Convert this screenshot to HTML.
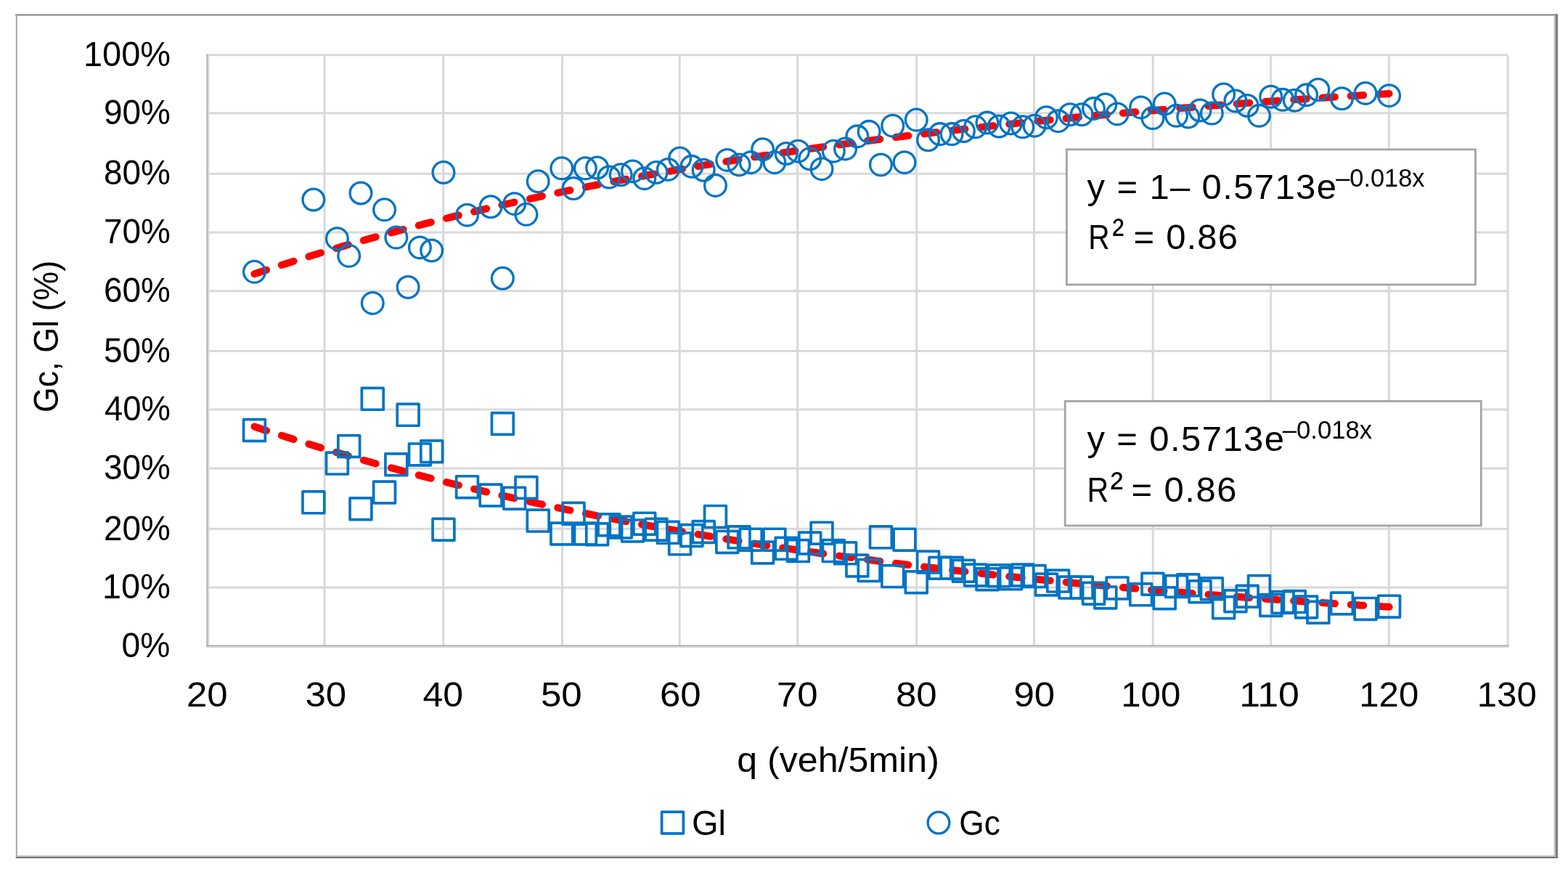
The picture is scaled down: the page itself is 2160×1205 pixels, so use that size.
<!DOCTYPE html><html><head><meta charset="utf-8"><title>Gc, Gl vs q</title><style>html,body{margin:0;padding:0;background:#fff;overflow:hidden;}svg{display:block;}text{font-family:"Liberation Sans",Arial,sans-serif;fill:#000;}</style></head><body>
<svg width="2160" height="1205" viewBox="0 0 2160 1205">
<rect x="0" y="0" width="2160" height="1205" fill="#fff"/>
<rect x="21" y="19.5" width="2125" height="2" fill="#808080"/>
<rect x="21.8" y="20" width="2" height="1162" fill="#a6a6a6"/>
<rect x="2140.6" y="21" width="2" height="1159" fill="#c4c4c4"/>
<rect x="2142.6" y="19.5" width="3.5" height="1162.5" fill="#7f7f7f"/>
<rect x="23" y="1178" width="2120" height="2" fill="#c0c0c0"/>
<rect x="21.8" y="1180" width="2124.3" height="2" fill="#767676"/>
<g stroke="#d9d9d9" stroke-width="3"><line x1="447.0" y1="75.7" x2="447.0" y2="889.9"/><line x1="610.7" y1="75.7" x2="610.7" y2="889.9"/><line x1="774.5" y1="75.7" x2="774.5" y2="889.9"/><line x1="936.2" y1="75.7" x2="936.2" y2="889.9"/><line x1="1098.7" y1="75.7" x2="1098.7" y2="889.9"/><line x1="1262.7" y1="75.7" x2="1262.7" y2="889.9"/><line x1="1424.5" y1="75.7" x2="1424.5" y2="889.9"/><line x1="1588.2" y1="75.7" x2="1588.2" y2="889.9"/><line x1="1750.7" y1="75.7" x2="1750.7" y2="889.9"/><line x1="1913.3" y1="75.7" x2="1913.3" y2="889.9"/><line x1="2077.1" y1="75.7" x2="2077.1" y2="889.9"/><line x1="286.0" y1="75.7" x2="2077.1" y2="75.7"/><line x1="286.0" y1="155.8" x2="2077.1" y2="155.8"/><line x1="286.0" y1="239.3" x2="2077.1" y2="239.3"/><line x1="286.0" y1="320.09999999999997" x2="2077.1" y2="320.09999999999997"/><line x1="286.0" y1="400.79999999999995" x2="2077.1" y2="400.79999999999995"/><line x1="286.0" y1="483.4" x2="2077.1" y2="483.4"/><line x1="286.0" y1="564.1" x2="2077.1" y2="564.1"/><line x1="286.0" y1="645.0" x2="2077.1" y2="645.0"/><line x1="286.0" y1="728.1999999999999" x2="2077.1" y2="728.1999999999999"/><line x1="286.0" y1="809.0" x2="2077.1" y2="809.0"/></g>
<rect x="284.3" y="74.2" width="2.4" height="816.6999999999999" fill="#b3b3b3"/>
<rect x="286.7" y="75.7" width="1.7" height="813.1999999999999" fill="#dcdcdc"/>
<rect x="284.3" y="888.2" width="1794.3" height="2.1" fill="#b3b3b3"/>
<rect x="285" y="890.3" width="1793.6" height="1.7" fill="#d4d4d4"/>
<g fill="none" stroke="#ff0000" stroke-width="10" stroke-linecap="round" stroke-linejoin="round" stroke-dasharray="17.5 21.84">
<path d="M350.43,587.52 L358.57,590.22 L366.72,592.91 L374.86,595.56 L383.00,598.20 L391.14,600.81 L399.28,603.39 L407.42,605.96 L415.56,608.50 L423.71,611.01 L431.85,613.51 L439.99,615.98 L448.13,618.43 L456.27,620.86 L464.41,623.27 L472.55,625.65 L480.70,628.02 L488.84,630.36 L496.98,632.68 L505.12,634.98 L513.26,637.26 L521.40,639.52 L529.55,641.76 L537.69,643.98 L545.83,646.18 L553.97,648.36 L562.11,650.52 L570.25,652.66 L578.39,654.79 L586.54,656.89 L594.68,658.97 L602.82,661.04 L610.96,663.09 L619.10,665.11 L627.24,667.12 L635.38,669.12 L643.53,671.09 L651.67,673.05 L659.81,674.99 L667.95,676.91 L676.09,678.81 L684.23,680.70 L692.38,682.57 L700.52,684.43 L708.66,686.26 L716.80,688.09 L724.94,689.89 L733.08,691.68 L741.22,693.45 L749.37,695.21 L757.51,696.95 L765.65,698.67 L773.79,700.38 L781.93,702.08 L790.07,703.76 L798.21,705.42 L806.36,707.07 L814.50,708.70 L822.64,710.32 L830.78,711.93 L838.92,713.52 L847.06,715.10 L855.21,716.66 L863.35,718.21 L871.49,719.74 L879.63,721.26 L887.77,722.77 L895.91,724.27 L904.05,725.75 L912.20,727.21 L920.34,728.67 L928.48,730.11 L936.62,731.54 L944.76,732.95 L952.90,734.35 L961.04,735.74 L969.19,737.12 L977.33,738.49 L985.47,739.84 L993.61,741.18 L1001.75,742.51 L1009.89,743.83 L1018.04,745.13 L1026.18,746.43 L1034.32,747.71 L1042.46,748.98 L1050.60,750.24 L1058.74,751.48 L1066.88,752.72 L1075.03,753.95 L1083.17,755.16 L1091.31,756.36 L1099.45,757.56 L1107.59,758.74 L1115.73,759.91 L1123.87,761.07 L1132.02,762.22 L1140.16,763.36 L1148.30,764.49 L1156.44,765.61 L1164.58,766.72 L1172.72,767.82 L1180.87,768.91 L1189.01,769.99 L1197.15,771.06 L1205.29,772.13 L1213.43,773.18 L1221.57,774.22 L1229.71,775.25 L1237.86,776.28 L1246.00,777.29 L1254.14,778.30 L1262.28,779.29 L1270.42,780.28 L1278.56,781.26 L1286.70,782.23 L1294.85,783.19 L1302.99,784.14 L1311.13,785.09 L1319.27,786.02 L1327.41,786.95 L1335.55,787.87 L1343.69,788.78 L1351.84,789.68 L1359.98,790.57 L1368.12,791.46 L1376.26,792.34 L1384.40,793.21 L1392.54,794.07 L1400.69,794.93 L1408.83,795.77 L1416.97,796.61 L1425.11,797.45 L1433.25,798.27 L1441.39,799.09 L1449.53,799.90 L1457.68,800.70 L1465.82,801.50 L1473.96,802.29 L1482.10,803.07 L1490.24,803.84 L1498.38,804.61 L1506.53,805.37 L1514.67,806.12 L1522.81,806.87 L1530.95,807.61 L1539.09,808.34 L1547.23,809.07 L1555.37,809.79 L1563.52,810.51 L1571.66,811.21 L1579.80,811.92 L1587.94,812.61 L1596.08,813.30 L1604.22,813.98 L1612.36,814.66 L1620.51,815.33 L1628.65,815.99 L1636.79,816.65 L1644.93,817.31 L1653.07,817.95 L1661.21,818.59 L1669.36,819.23 L1677.50,819.86 L1685.64,820.48 L1693.78,821.10 L1701.92,821.71 L1710.06,822.32 L1718.20,822.92 L1726.35,823.52 L1734.49,824.11 L1742.63,824.70 L1750.77,825.28 L1758.91,825.85 L1767.05,826.42 L1775.19,826.99 L1783.34,827.55 L1791.48,828.10 L1799.62,828.65 L1807.76,829.20 L1815.90,829.74 L1824.04,830.27 L1832.19,830.80 L1840.33,831.33 L1848.47,831.85 L1856.61,832.37 L1864.75,832.88 L1872.89,833.39 L1881.03,833.89 L1889.18,834.39 L1897.32,834.88 L1905.46,835.37 L1913.60,835.86"/>
<path d="M350.43,377.28 L358.57,374.58 L366.72,371.89 L374.86,369.24 L383.00,366.60 L391.14,363.99 L399.28,361.41 L407.42,358.84 L415.56,356.30 L423.71,353.79 L431.85,351.29 L439.99,348.82 L448.13,346.37 L456.27,343.94 L464.41,341.53 L472.55,339.15 L480.70,336.78 L488.84,334.44 L496.98,332.12 L505.12,329.82 L513.26,327.54 L521.40,325.28 L529.55,323.04 L537.69,320.82 L545.83,318.62 L553.97,316.44 L562.11,314.28 L570.25,312.14 L578.39,310.01 L586.54,307.91 L594.68,305.83 L602.82,303.76 L610.96,301.71 L619.10,299.69 L627.24,297.68 L635.38,295.68 L643.53,293.71 L651.67,291.75 L659.81,289.81 L667.95,287.89 L676.09,285.99 L684.23,284.10 L692.38,282.23 L700.52,280.37 L708.66,278.54 L716.80,276.71 L724.94,274.91 L733.08,273.12 L741.22,271.35 L749.37,269.59 L757.51,267.85 L765.65,266.13 L773.79,264.42 L781.93,262.72 L790.07,261.04 L798.21,259.38 L806.36,257.73 L814.50,256.10 L822.64,254.48 L830.78,252.87 L838.92,251.28 L847.06,249.70 L855.21,248.14 L863.35,246.59 L871.49,245.06 L879.63,243.54 L887.77,242.03 L895.91,240.53 L904.05,239.05 L912.20,237.59 L920.34,236.13 L928.48,234.69 L936.62,233.26 L944.76,231.85 L952.90,230.45 L961.04,229.06 L969.19,227.68 L977.33,226.31 L985.47,224.96 L993.61,223.62 L1001.75,222.29 L1009.89,220.97 L1018.04,219.67 L1026.18,218.37 L1034.32,217.09 L1042.46,215.82 L1050.60,214.56 L1058.74,213.32 L1066.88,212.08 L1075.03,210.85 L1083.17,209.64 L1091.31,208.44 L1099.45,207.24 L1107.59,206.06 L1115.73,204.89 L1123.87,203.73 L1132.02,202.58 L1140.16,201.44 L1148.30,200.31 L1156.44,199.19 L1164.58,198.08 L1172.72,196.98 L1180.87,195.89 L1189.01,194.81 L1197.15,193.74 L1205.29,192.67 L1213.43,191.62 L1221.57,190.58 L1229.71,189.55 L1237.86,188.52 L1246.00,187.51 L1254.14,186.50 L1262.28,185.51 L1270.42,184.52 L1278.56,183.54 L1286.70,182.57 L1294.85,181.61 L1302.99,180.66 L1311.13,179.71 L1319.27,178.78 L1327.41,177.85 L1335.55,176.93 L1343.69,176.02 L1351.84,175.12 L1359.98,174.23 L1368.12,173.34 L1376.26,172.46 L1384.40,171.59 L1392.54,170.73 L1400.69,169.87 L1408.83,169.03 L1416.97,168.19 L1425.11,167.35 L1433.25,166.53 L1441.39,165.71 L1449.53,164.90 L1457.68,164.10 L1465.82,163.30 L1473.96,162.51 L1482.10,161.73 L1490.24,160.96 L1498.38,160.19 L1506.53,159.43 L1514.67,158.68 L1522.81,157.93 L1530.95,157.19 L1539.09,156.46 L1547.23,155.73 L1555.37,155.01 L1563.52,154.29 L1571.66,153.59 L1579.80,152.88 L1587.94,152.19 L1596.08,151.50 L1604.22,150.82 L1612.36,150.14 L1620.51,149.47 L1628.65,148.81 L1636.79,148.15 L1644.93,147.49 L1653.07,146.85 L1661.21,146.21 L1669.36,145.57 L1677.50,144.94 L1685.64,144.32 L1693.78,143.70 L1701.92,143.09 L1710.06,142.48 L1718.20,141.88 L1726.35,141.28 L1734.49,140.69 L1742.63,140.10 L1750.77,139.52 L1758.91,138.95 L1767.05,138.38 L1775.19,137.81 L1783.34,137.25 L1791.48,136.70 L1799.62,136.15 L1807.76,135.60 L1815.90,135.06 L1824.04,134.53 L1832.19,134.00 L1840.33,133.47 L1848.47,132.95 L1856.61,132.43 L1864.75,131.92 L1872.89,131.41 L1881.03,130.91 L1889.18,130.41 L1897.32,129.92 L1905.46,129.43 L1913.60,128.94"/>
</g>
<g fill="none" stroke="#0074c4" stroke-width="3.7" stroke-linejoin="round"><rect x="335.53" y="577.60" width="29.8" height="29.8"/><rect x="416.95" y="676.94" width="29.8" height="29.8"/><rect x="449.51" y="623.20" width="29.8" height="29.8"/><rect x="465.80" y="599.59" width="29.8" height="29.8"/><rect x="482.08" y="685.89" width="29.8" height="29.8"/><rect x="498.36" y="534.45" width="29.8" height="29.8"/><rect x="514.65" y="663.09" width="29.8" height="29.8"/><rect x="530.93" y="624.83" width="29.8" height="29.8"/><rect x="547.21" y="556.43" width="29.8" height="29.8"/><rect x="563.49" y="610.99" width="29.8" height="29.8"/><rect x="579.78" y="606.91" width="29.8" height="29.8"/><rect x="596.06" y="714.39" width="29.8" height="29.8"/><rect x="628.63" y="655.77" width="29.8" height="29.8"/><rect x="661.19" y="667.16" width="29.8" height="29.8"/><rect x="677.48" y="568.65" width="29.8" height="29.8"/><rect x="693.76" y="671.24" width="29.8" height="29.8"/><rect x="710.04" y="656.58" width="29.8" height="29.8"/><rect x="726.32" y="702.18" width="29.8" height="29.8"/><rect x="758.89" y="720.09" width="29.8" height="29.8"/><rect x="775.17" y="692.41" width="29.8" height="29.8"/><rect x="791.46" y="720.09" width="29.8" height="29.8"/><rect x="807.74" y="720.90" width="29.8" height="29.8"/><rect x="824.02" y="707.87" width="29.8" height="29.8"/><rect x="840.31" y="711.13" width="29.8" height="29.8"/><rect x="856.59" y="716.02" width="29.8" height="29.8"/><rect x="872.87" y="706.25" width="29.8" height="29.8"/><rect x="889.15" y="714.39" width="29.8" height="29.8"/><rect x="905.44" y="718.46" width="29.8" height="29.8"/><rect x="921.72" y="733.93" width="29.8" height="29.8"/><rect x="938.00" y="722.53" width="29.8" height="29.8"/><rect x="954.29" y="717.65" width="29.8" height="29.8"/><rect x="970.57" y="696.48" width="29.8" height="29.8"/><rect x="986.85" y="731.49" width="29.8" height="29.8"/><rect x="1003.14" y="724.97" width="29.8" height="29.8"/><rect x="1019.42" y="728.23" width="29.8" height="29.8"/><rect x="1035.70" y="746.14" width="29.8" height="29.8"/><rect x="1051.98" y="728.23" width="29.8" height="29.8"/><rect x="1068.27" y="740.44" width="29.8" height="29.8"/><rect x="1084.55" y="743.70" width="29.8" height="29.8"/><rect x="1100.83" y="733.12" width="29.8" height="29.8"/><rect x="1117.12" y="719.27" width="29.8" height="29.8"/><rect x="1133.40" y="743.70" width="29.8" height="29.8"/><rect x="1149.68" y="746.96" width="29.8" height="29.8"/><rect x="1165.96" y="764.05" width="29.8" height="29.8"/><rect x="1182.25" y="770.57" width="29.8" height="29.8"/><rect x="1198.53" y="724.97" width="29.8" height="29.8"/><rect x="1214.81" y="778.71" width="29.8" height="29.8"/><rect x="1231.10" y="728.23" width="29.8" height="29.8"/><rect x="1247.38" y="786.85" width="29.8" height="29.8"/><rect x="1263.66" y="759.17" width="29.8" height="29.8"/><rect x="1279.95" y="767.31" width="29.8" height="29.8"/><rect x="1296.23" y="767.31" width="29.8" height="29.8"/><rect x="1312.51" y="771.38" width="29.8" height="29.8"/><rect x="1328.79" y="777.08" width="29.8" height="29.8"/><rect x="1345.08" y="782.78" width="29.8" height="29.8"/><rect x="1361.36" y="777.90" width="29.8" height="29.8"/><rect x="1377.64" y="781.97" width="29.8" height="29.8"/><rect x="1393.93" y="777.08" width="29.8" height="29.8"/><rect x="1410.21" y="778.71" width="29.8" height="29.8"/><rect x="1426.49" y="790.11" width="29.8" height="29.8"/><rect x="1442.78" y="785.22" width="29.8" height="29.8"/><rect x="1459.06" y="794.18" width="29.8" height="29.8"/><rect x="1475.34" y="794.18" width="29.8" height="29.8"/><rect x="1491.62" y="802.32" width="29.8" height="29.8"/><rect x="1507.91" y="808.02" width="29.8" height="29.8"/><rect x="1524.19" y="794.99" width="29.8" height="29.8"/><rect x="1556.76" y="803.95" width="29.8" height="29.8"/><rect x="1573.04" y="789.29" width="29.8" height="29.8"/><rect x="1589.32" y="808.84" width="29.8" height="29.8"/><rect x="1605.61" y="792.55" width="29.8" height="29.8"/><rect x="1621.89" y="790.92" width="29.8" height="29.8"/><rect x="1638.17" y="799.88" width="29.8" height="29.8"/><rect x="1654.45" y="795.81" width="29.8" height="29.8"/><rect x="1670.74" y="821.86" width="29.8" height="29.8"/><rect x="1687.02" y="812.91" width="29.8" height="29.8"/><rect x="1703.30" y="806.39" width="29.8" height="29.8"/><rect x="1719.59" y="792.55" width="29.8" height="29.8"/><rect x="1735.87" y="818.61" width="29.8" height="29.8"/><rect x="1752.15" y="814.53" width="29.8" height="29.8"/><rect x="1768.44" y="813.72" width="29.8" height="29.8"/><rect x="1784.72" y="821.05" width="29.8" height="29.8"/><rect x="1801.00" y="828.38" width="29.8" height="29.8"/><rect x="1833.57" y="816.16" width="29.8" height="29.8"/><rect x="1866.13" y="823.49" width="29.8" height="29.8"/><rect x="1898.70" y="820.23" width="29.8" height="29.8"/></g>
<g fill="none" stroke="#0074c4" stroke-width="3.3"><circle cx="350.43" cy="374.30" r="14.85"/><circle cx="431.85" cy="274.96" r="14.85"/><circle cx="464.41" cy="328.70" r="14.85"/><circle cx="480.70" cy="352.31" r="14.85"/><circle cx="496.98" cy="266.01" r="14.85"/><circle cx="513.26" cy="417.45" r="14.85"/><circle cx="529.55" cy="288.81" r="14.85"/><circle cx="545.83" cy="327.07" r="14.85"/><circle cx="562.11" cy="395.47" r="14.85"/><circle cx="578.39" cy="340.92" r="14.85"/><circle cx="594.68" cy="344.99" r="14.85"/><circle cx="610.96" cy="237.51" r="14.85"/><circle cx="643.53" cy="296.13" r="14.85"/><circle cx="676.09" cy="284.74" r="14.85"/><circle cx="692.38" cy="383.25" r="14.85"/><circle cx="708.66" cy="280.66" r="14.85"/><circle cx="724.94" cy="295.32" r="14.85"/><circle cx="741.22" cy="249.72" r="14.85"/><circle cx="773.79" cy="231.81" r="14.85"/><circle cx="790.07" cy="259.50" r="14.85"/><circle cx="806.36" cy="231.81" r="14.85"/><circle cx="822.64" cy="231.00" r="14.85"/><circle cx="838.92" cy="244.03" r="14.85"/><circle cx="855.21" cy="240.77" r="14.85"/><circle cx="871.49" cy="235.88" r="14.85"/><circle cx="887.77" cy="245.65" r="14.85"/><circle cx="904.05" cy="237.51" r="14.85"/><circle cx="920.34" cy="233.44" r="14.85"/><circle cx="936.62" cy="217.97" r="14.85"/><circle cx="952.90" cy="229.37" r="14.85"/><circle cx="969.19" cy="234.25" r="14.85"/><circle cx="985.47" cy="255.42" r="14.85"/><circle cx="1001.75" cy="220.41" r="14.85"/><circle cx="1018.04" cy="226.93" r="14.85"/><circle cx="1034.32" cy="223.67" r="14.85"/><circle cx="1050.60" cy="205.76" r="14.85"/><circle cx="1066.88" cy="223.67" r="14.85"/><circle cx="1083.17" cy="211.46" r="14.85"/><circle cx="1099.45" cy="208.20" r="14.85"/><circle cx="1115.73" cy="218.79" r="14.85"/><circle cx="1132.02" cy="232.63" r="14.85"/><circle cx="1148.30" cy="208.20" r="14.85"/><circle cx="1164.58" cy="204.94" r="14.85"/><circle cx="1180.87" cy="187.85" r="14.85"/><circle cx="1197.15" cy="181.33" r="14.85"/><circle cx="1213.43" cy="226.93" r="14.85"/><circle cx="1229.71" cy="173.19" r="14.85"/><circle cx="1246.00" cy="223.67" r="14.85"/><circle cx="1262.28" cy="165.05" r="14.85"/><circle cx="1278.56" cy="192.73" r="14.85"/><circle cx="1294.85" cy="184.59" r="14.85"/><circle cx="1311.13" cy="184.59" r="14.85"/><circle cx="1327.41" cy="180.52" r="14.85"/><circle cx="1343.69" cy="174.82" r="14.85"/><circle cx="1359.98" cy="169.12" r="14.85"/><circle cx="1376.26" cy="174.00" r="14.85"/><circle cx="1392.54" cy="169.93" r="14.85"/><circle cx="1408.83" cy="174.82" r="14.85"/><circle cx="1425.11" cy="173.19" r="14.85"/><circle cx="1441.39" cy="161.79" r="14.85"/><circle cx="1457.68" cy="166.68" r="14.85"/><circle cx="1473.96" cy="157.72" r="14.85"/><circle cx="1490.24" cy="157.72" r="14.85"/><circle cx="1506.53" cy="149.58" r="14.85"/><circle cx="1522.81" cy="143.88" r="14.85"/><circle cx="1539.09" cy="156.91" r="14.85"/><circle cx="1571.66" cy="147.95" r="14.85"/><circle cx="1587.94" cy="162.61" r="14.85"/><circle cx="1604.22" cy="143.06" r="14.85"/><circle cx="1620.51" cy="159.35" r="14.85"/><circle cx="1636.79" cy="160.98" r="14.85"/><circle cx="1653.07" cy="152.02" r="14.85"/><circle cx="1669.36" cy="156.09" r="14.85"/><circle cx="1685.64" cy="130.04" r="14.85"/><circle cx="1701.92" cy="138.99" r="14.85"/><circle cx="1718.20" cy="145.51" r="14.85"/><circle cx="1734.49" cy="159.35" r="14.85"/><circle cx="1750.77" cy="133.29" r="14.85"/><circle cx="1767.05" cy="137.37" r="14.85"/><circle cx="1783.34" cy="138.18" r="14.85"/><circle cx="1799.62" cy="130.85" r="14.85"/><circle cx="1815.90" cy="123.52" r="14.85"/><circle cx="1848.47" cy="135.74" r="14.85"/><circle cx="1881.03" cy="128.41" r="14.85"/><circle cx="1913.60" cy="131.67" r="14.85"/></g>
<rect x="911.6" y="1118.1" width="29.8" height="29.8" fill="none" stroke="#0074c4" stroke-width="3.7" stroke-linejoin="round"/>
<circle cx="1293" cy="1133" r="14.85" fill="none" stroke="#0074c4" stroke-width="3.3"/>
<rect x="1469.4" y="205.8" width="563.1" height="186.2" fill="#fff" stroke="#a4a4a4" stroke-width="2.8"/>
<rect x="1467.2" y="552.5" width="573.1" height="171.4" fill="#fff" stroke="#a4a4a4" stroke-width="2.8"/>
<text id="yl100" x="115.00" y="91.00" font-size="49.0" textLength="120.06" lengthAdjust="spacingAndGlyphs">100%</text>
<text id="yl90" x="143.00" y="170.50" font-size="49.0" textLength="91.82" lengthAdjust="spacingAndGlyphs">90%</text>
<text id="yl80" x="143.00" y="254.00" font-size="49.0" textLength="91.82" lengthAdjust="spacingAndGlyphs">80%</text>
<text id="yl70" x="143.00" y="335.00" font-size="49.0" textLength="91.76" lengthAdjust="spacingAndGlyphs">70%</text>
<text id="yl60" x="143.00" y="415.50" font-size="49.0" textLength="91.76" lengthAdjust="spacingAndGlyphs">60%</text>
<text id="yl50" x="143.00" y="498.50" font-size="49.0" textLength="91.82" lengthAdjust="spacingAndGlyphs">50%</text>
<text id="yl40" x="144.00" y="579.00" font-size="49.0" textLength="90.85" lengthAdjust="spacingAndGlyphs">40%</text>
<text id="yl30" x="143.00" y="659.50" font-size="49.0" textLength="91.82" lengthAdjust="spacingAndGlyphs">30%</text>
<text id="yl20" x="143.00" y="743.50" font-size="49.0" textLength="91.76" lengthAdjust="spacingAndGlyphs">20%</text>
<text id="yl10" x="141.00" y="823.50" font-size="49.0" textLength="93.81" lengthAdjust="spacingAndGlyphs">10%</text>
<text id="yl0" x="167.50" y="905.00" font-size="49.0" textLength="66.83" lengthAdjust="spacingAndGlyphs">0%</text>
<text id="xl20" x="257.00" y="973.10" font-size="49.0" textLength="56.70" lengthAdjust="spacingAndGlyphs">20</text>
<text id="xl30" x="420.50" y="973.10" font-size="49.0" textLength="56.70" lengthAdjust="spacingAndGlyphs">30</text>
<text id="xl40" x="582.50" y="973.10" font-size="49.0" textLength="55.58" lengthAdjust="spacingAndGlyphs">40</text>
<text id="xl50" x="745.00" y="973.10" font-size="49.0" textLength="56.70" lengthAdjust="spacingAndGlyphs">50</text>
<text id="xl60" x="909.00" y="973.10" font-size="49.0" textLength="56.70" lengthAdjust="spacingAndGlyphs">60</text>
<text id="xl70" x="1070.00" y="973.10" font-size="49.0" textLength="56.70" lengthAdjust="spacingAndGlyphs">70</text>
<text id="xl80" x="1234.00" y="973.10" font-size="49.0" textLength="56.70" lengthAdjust="spacingAndGlyphs">80</text>
<text id="xl90" x="1396.50" y="973.10" font-size="49.0" textLength="56.70" lengthAdjust="spacingAndGlyphs">90</text>
<text id="xl100" x="1544.25" y="973.10" font-size="49.0" textLength="82.00" lengthAdjust="spacingAndGlyphs">100</text>
<text id="xl110" x="1707.25" y="973.10" font-size="49.0" textLength="82.69" lengthAdjust="spacingAndGlyphs">110</text>
<text id="xl120" x="1872.25" y="973.10" font-size="49.0" textLength="82.00" lengthAdjust="spacingAndGlyphs">120</text>
<text id="xl130" x="2034.75" y="973.10" font-size="49.0" textLength="81.99" lengthAdjust="spacingAndGlyphs">130</text>
<text id="xt" x="1015.20" y="1062.60" font-size="49.0" textLength="278.65" lengthAdjust="spacingAndGlyphs">q (veh/5min)</text>
<text id="lgl" x="953.00" y="1149.60" font-size="49.0" textLength="46.96" lengthAdjust="spacingAndGlyphs">Gl</text>
<text id="lgc" x="1321.20" y="1149.60" font-size="49.0" textLength="56.59" lengthAdjust="spacingAndGlyphs">Gc</text>
<text id="t1a" x="1497.60" y="274.20" font-size="49.0" textLength="343.30" lengthAdjust="spacing">y = 1– 0.5713e</text>
<text id="t1s" x="1840.20" y="256.70" font-size="35.0" textLength="122.34" lengthAdjust="spacingAndGlyphs">–0.018x</text>
<text id="t1r" x="1499.20" y="342.80" font-size="49.0" textLength="29.42" lengthAdjust="spacingAndGlyphs">R</text>
<text id="t1q" x="1532.20" y="341.20" font-size="58.0" textLength="16.15" lengthAdjust="spacingAndGlyphs">²</text>
<text id="t1b" x="1561.60" y="342.80" font-size="49.0" textLength="143.40" lengthAdjust="spacing">= 0.86</text>
<text id="t2a" x="1497.40" y="621.10" font-size="49.0" textLength="271.57" lengthAdjust="spacing">y = 0.5713e</text>
<text id="t2s" x="1766.80" y="604.00" font-size="35.0" textLength="123.35" lengthAdjust="spacingAndGlyphs">–0.018x</text>
<text id="t2r" x="1497.40" y="690.60" font-size="49.0" textLength="29.78" lengthAdjust="spacingAndGlyphs">R</text>
<text id="t2q" x="1529.40" y="689.60" font-size="58.0" textLength="17.64" lengthAdjust="spacingAndGlyphs">²</text>
<text id="t2b" x="1558.40" y="690.60" font-size="49.0" textLength="145.07" lengthAdjust="spacing">= 0.86</text>
<text id="yt" x="-24.00" y="464.00" font-size="49.0" textLength="209.11" lengthAdjust="spacingAndGlyphs" transform="rotate(-90 80 464)">Gc, Gl (%)</text>
</svg></body></html>
